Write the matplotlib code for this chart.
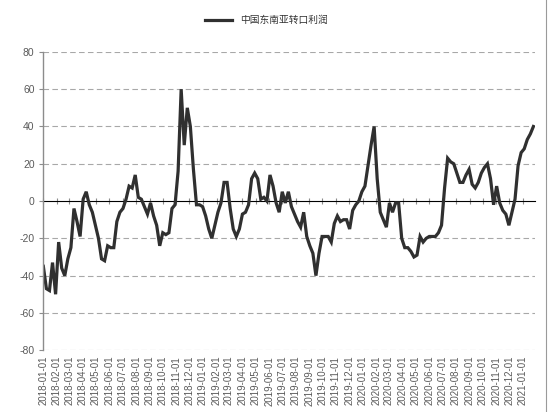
import matplotlib
matplotlib.use('Agg')
import matplotlib.pyplot as plt
import matplotlib.dates as mdates
import pandas as pd

plt.rcParams['font.family'] = ['Liberation Sans', 'Noto Sans CJK SC', 'DejaVu Sans']
plt.rcParams['axes.unicode_minus'] = False

# weekly readings, starting 2018-01-01
start = '2018-01-01'
profit = [
    -35, -47, -48, -33, -50, -22, -36, -40, -31, -25, -4, -11, -19, 1, 5, -2,
    -6, -13, -20, -31, -32, -24, -25, -25, -11, -6, -4, 1, 8, 7, 14, 2,
    1, -3, -7, -1, -8, -13, -24, -17, -18, -17, -4, -2, 16, 60, 30, 50,
    40, 17, -2, -2, -3, -8, -15, -20, -13, -6, -1, 10, 10, -4, -15, -19,
    -15, -7, -6, -2, 12, 15, 12, 1, 2, 0, 14, 8, -1, -6, 5, -1,
    5, -3, -7, -11, -14, -6, -19, -24, -28, -40, -28, -19, -19, -19, -22, -12,
    -8, -11, -10, -10, -15, -5, -2, 0, 5, 8, 19, 30, 40, 12, -6, -10,
    -14, -1, -6, -1, -1, -20, -25, -25, -27, -30, -29, -19, -22, -20, -19, -19,
    -19, -17, -13, 7, 23, 21, 20, 15, 10, 10, 14, 17, 9, 7, 10, 15,
    18, 20, 12, -2, 8, -1, -5, -7, -13, -6, 1, 19, 26, 28, 33, 36,
    40,
]
dates = pd.date_range(start, periods=len(profit), freq='7D')
month_ticks = pd.date_range('2018-01-01', '2021-01-01', freq='MS')
y_ticks = list(range(-80, 81, 20))
series_name = '中国东南亚转口利润'

grey = '#8c8c8c'
text_grey = '#5a5a5a'

fig = plt.figure(figsize=(5.5, 4.12), dpi=100)
ax = fig.add_axes([0.078, 0.150, 0.895, 0.724])

ax.plot(dates, profit, color='#303030', lw=2.3, solid_joinstyle='miter',
        label=series_name)

ax.set_ylim(-80, 80)
ax.set_xlim(pd.Timestamp('2017-12-31'), pd.Timestamp('2021-01-29'))
ax.set_yticks(y_ticks)
for v in y_ticks:
    if v == 0:
        continue
    ax.axhline(v, color='#a8a8a8', lw=0.8, ls=(0, (5, 3)), zorder=0)

ax.set_xticks(month_ticks)
ax.xaxis.set_major_formatter(mdates.DateFormatter('%Y-%m-%d'))
ax.tick_params(axis='x', labelrotation=90, length=0, labelsize=7,
               labelcolor=text_grey, pad=4)
ax.tick_params(axis='y', length=3, color=grey, labelsize=7.5,
               labelcolor=text_grey, pad=3)

for s in ['top', 'right', 'bottom']:
    ax.spines[s].set_visible(False)
ax.spines['left'].set_color(grey)
ax.spines['left'].set_linewidth(1.0)

# zero line with month tick marks
zero = ax.secondary_xaxis(0.5)
zero.set_xticks(month_ticks)
zero.set_xticklabels([])
zero.tick_params(axis='x', direction='inout', length=4, color=grey, width=0.8)
zero.spines['bottom'].set_color(grey)
zero.spines['bottom'].set_linewidth(1.0)

fig.legend(loc='center', bbox_to_anchor=(0.484, 0.951), frameon=False,
           fontsize=7, handlelength=2.8, labelcolor='#333333')

fig.add_artist(plt.Line2D([0.993, 0.993], [0, 1], color='#9a9a9a', lw=0.8))

fig.savefig('out.png', dpi=100)
